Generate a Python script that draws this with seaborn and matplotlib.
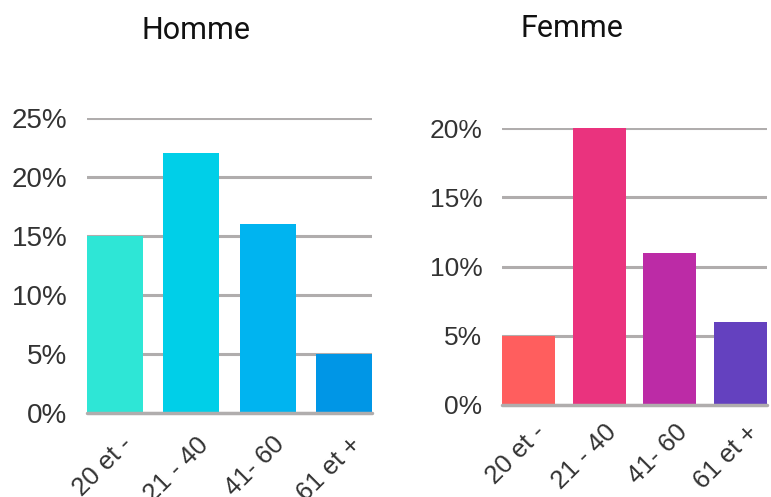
import matplotlib
matplotlib.use("Agg")
import matplotlib.pyplot as plt
import matplotlib.transforms as mtransforms
import seaborn as sns

# Données
categories = ["20 et -", "21 - 40", "41- 60", "61 et +"]
homme_values = [15, 22, 16, 5]
femme_values = [5, 20, 11, 6]
homme_colors = ["#2EE6D6", "#00CFE8", "#00B4F0", "#0096E6"]
femme_colors = ["#FF5E5E", "#EA337E", "#BC2BA6", "#6441BF"]

sns.set_theme(style="white")
plt.rcParams['font.family'] = ['Liberation Sans', 'DejaVu Sans']

W, H = 771, 497
fig = plt.figure(figsize=(W / 100, H / 100), dpi=100)


def panel(x0, x1, ytop, ybot, values, colors, ymax, width, ysize, xpad):
    ax = fig.add_axes([x0 / W, (H - ybot) / H, (x1 - x0) / W, (ybot - ytop) / H])
    sns.barplot(x=categories, y=values, hue=categories, palette=colors,
                saturation=1, width=width, legend=False, ax=ax, zorder=2,
                linewidth=0)
    ax.set_ylim(0, ymax)
    ax.set_xlim(-width / 2, len(categories) - 1 + width / 2)
    ax.set_yticks(range(0, ymax + 1, 5))
    ax.set_yticklabels([f"{v}%" for v in range(0, ymax + 1, 5)])
    ax.yaxis.grid(True, color="#b0adad", linewidth=2.2, zorder=0)
    ax.set_axisbelow(True)
    ax.axhline(0, color="#b0adad", linewidth=2.5, zorder=3, clip_on=False)
    for s in ax.spines.values():
        s.set_visible(False)
    ax.set_xlabel("")
    ax.set_ylabel("")
    ax.tick_params(axis="y", length=0, pad=14, labelsize=ysize, labelcolor="#333333")
    ax.tick_params(axis="x", length=0, pad=xpad, labelsize=18.5, labelcolor="#333333")
    shift = mtransforms.ScaledTranslation(5 / 100, 0, fig.dpi_scale_trans)
    for lab in ax.get_xticklabels():
        lab.set_rotation(45)
        lab.set_ha("right")
        lab.set_rotation_mode("anchor")
        lab.set_transform(lab.get_transform() + shift)
    return ax


panel(87, 372, 118, 413, homme_values, homme_colors, 25, 0.737, 20, 14)
panel(502, 767, 128, 405, femme_values, femme_colors, 20, 0.75, 19, 11)

fig.text(196 / W, 1 - 39 / H, "Homme", ha="center", va="baseline",
         fontsize=22, color="#111111", family=["Roboto", "DejaVu Sans"])
fig.text(572 / W, 1 - 37 / H, "Femme", ha="center", va="baseline",
         fontsize=22, color="#111111", family=["Roboto", "DejaVu Sans"])

fig.savefig("out.png", dpi=100)
